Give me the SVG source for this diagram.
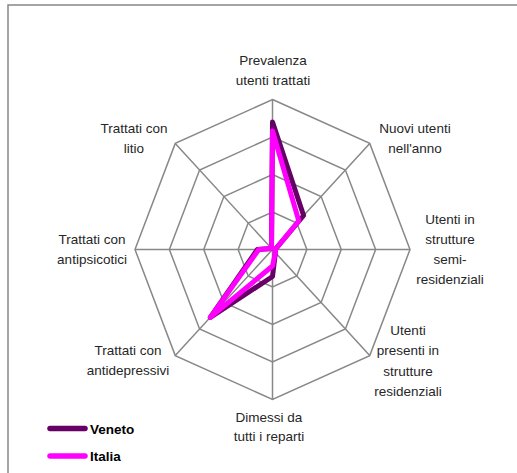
<svg xmlns="http://www.w3.org/2000/svg" width="517" height="473" viewBox="0 0 517 473">
  <style>
    .grid { fill: none; stroke: #888888; stroke-width: 1.5; }
    .lbl { font-family: "Liberation Sans", Arial, sans-serif; font-size: 13.5px; fill: #262626; text-anchor: middle; }
    .leg { font-family: "Liberation Sans", Arial, sans-serif; font-size: 13.5px; font-weight: bold; fill: #000000; }
    .series { fill: none; stroke-width: 5; stroke-linejoin: round; stroke-linecap: round; }
    .veneto { stroke: #660066; }
    .italia { stroke: #FF00FF; }
  </style>
  <rect x="0" y="0" width="517" height="473" fill="#ffffff"/>
  <rect id="frame" x="8" y="5" width="520" height="480" fill="none" stroke="#878787" stroke-width="1.5"/>

  <g id="grid">
    <polygon class="grid" points="272.5,99.5 369.73,143.43 410,249.5 369.73,355.57 272.5,399.5 175.27,355.57 135,249.5 175.27,143.43"/>
    <polygon class="grid" points="272.5,137 345.42,169.95 375.63,249.5 345.42,329.05 272.5,362 199.58,329.05 169.38,249.5 199.58,169.95"/>
    <polygon class="grid" points="272.5,174.5 321.11,196.47 341.25,249.5 321.11,302.53 272.5,324.5 223.89,302.53 203.75,249.5 223.89,196.47"/>
    <polygon class="grid" points="272.5,212 296.81,222.98 306.88,249.5 296.81,276.02 272.5,287 248.19,276.02 238.13,249.5 248.19,222.98"/>
    <path class="grid" d="M272.5,249.5 L272.5,99.5 M272.5,249.5 L369.73,143.43 M272.5,249.5 L410,249.5 M272.5,249.5 L369.73,355.57 M272.5,249.5 L272.5,399.5 M272.5,249.5 L175.27,355.57 M272.5,249.5 L135,249.5 M272.5,249.5 L175.27,143.43"/>
  </g>

  <g id="labels">
    <g id="ax-prevalenza"><text class="lbl" x="273" y="65">Prevalenza</text><text class="lbl" x="273" y="85">utenti trattati</text></g>
    <g id="ax-nuovi"><text class="lbl" x="415" y="133">Nuovi utenti</text><text class="lbl" x="415" y="153">nell'anno</text></g>
    <g id="ax-semi"><text class="lbl" x="450" y="224">Utenti in</text><text class="lbl" x="450" y="244">strutture</text><text class="lbl" x="450" y="264">semi-</text><text class="lbl" x="450" y="284">residenziali</text></g>
    <g id="ax-resid"><text class="lbl" x="408" y="334.5">Utenti</text><text class="lbl" x="408" y="355">presenti in</text><text class="lbl" x="408" y="375.5">strutture</text><text class="lbl" x="408" y="395.5">residenziali</text></g>
    <g id="ax-dimessi"><text class="lbl" x="269" y="422">Dimessi da</text><text class="lbl" x="269" y="441">tutti i reparti</text></g>
    <g id="ax-antidep"><text class="lbl" x="128" y="354.5">Trattati con</text><text class="lbl" x="128" y="374.5">antidepressivi</text></g>
    <g id="ax-antipsi"><text class="lbl" x="92" y="244">Trattati con</text><text class="lbl" x="92" y="264">antipsicotici</text></g>
    <g id="ax-litio"><text class="lbl" x="134" y="133">Trattati con</text><text class="lbl" x="134" y="153">litio</text></g>
  </g>

  <g id="series-veneto">
    <polygon class="series veneto" points="272.5,122 303.6,215.5 275.25,249.5 275.4,252.7 272.5,276.5 210.3,317.4 257.4,249.5 271.5,248.4"/>
  </g>
  <g id="series-italia">
    <polygon class="series italia" points="272.5,131 298.8,220.9 275.25,249.5 275.4,252.7 272.5,266 210.3,317.4 258.75,249.5 271.5,248.4"/>
  </g>

  <g id="legend">
    <g id="leg-veneto"><line x1="50" y1="428.5" x2="85" y2="428.5" stroke="#660066" stroke-width="5.5" stroke-linecap="round"/><text class="leg" x="90" y="433.5">Veneto</text></g>
    <g id="leg-italia"><line x1="50" y1="456" x2="85" y2="456" stroke="#FF00FF" stroke-width="5.5" stroke-linecap="round"/><text class="leg" x="90" y="461">Italia</text></g>
  </g>
</svg>
